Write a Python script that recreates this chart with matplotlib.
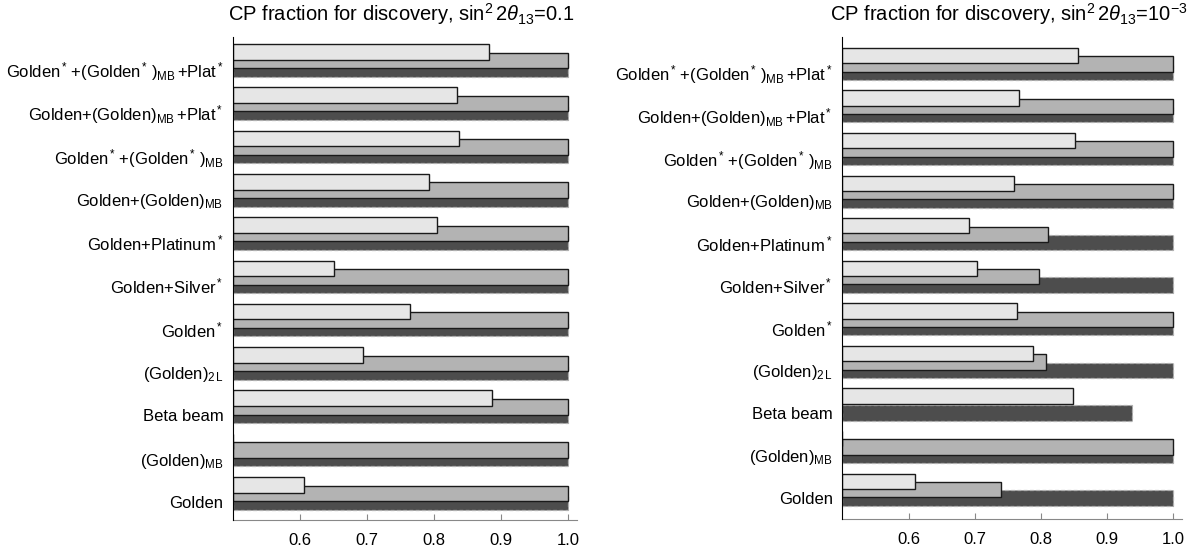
import numpy as np
import matplotlib
matplotlib.use("Agg")
import matplotlib.pyplot as plt

plt.rcParams['font.family'] = ['Liberation Sans', 'DejaVu Sans']
plt.rcParams['mathtext.fontset'] = 'custom'
plt.rcParams['mathtext.rm'] = 'Liberation Sans'
plt.rcParams['mathtext.it'] = 'Liberation Sans:italic'
plt.rcParams['mathtext.bf'] = 'Liberation Sans:bold'

# categories, top to bottom
labels = [r"Golden$^*\,$+(Golden$^*\,$)$_{\mathrm{MB}}\,$+Plat$^*$",
          r"Golden+(Golden)$_{\mathrm{MB}}\,$+Plat$^*$",
          r"Golden$^*\,$+(Golden$^*\,$)$_{\mathrm{MB}}$",
          r"Golden+(Golden)$_{\mathrm{MB}}$",
          r"Golden+Platinum$^*$",
          r"Golden+Silver$^*$",
          r"Golden$^*$",
          r"(Golden)$_{2\,\mathrm{L}}$",
          "Beta beam",
          r"(Golden)$_{\mathrm{MB}}$",
          "Golden"]

# sin^2 2theta13 = 0.1
left_light = [0.881, 0.834, 0.837, 0.792, 0.804, 0.650, 0.764, 0.694, 0.886, 0.500, 0.606]
left_medium = [1.0, 1.0, 1.0, 1.0, 1.0, 1.0, 1.0, 1.0, 1.0, 1.0, 1.0]
left_dark = [1.0, 1.0, 1.0, 1.0, 1.0, 1.0, 1.0, 1.0, 1.0, 1.0, 1.0]

# sin^2 2theta13 = 1e-3
right_light = [0.856, 0.767, 0.852, 0.760, 0.692, 0.704, 0.764, 0.788, 0.848, 0.500, 0.610]
right_medium = [1.0, 1.0, 1.0, 1.0, 0.810, 0.797, 1.0, 0.808, 0.500, 1.0, 0.740]
right_dark = [1.0, 1.0, 1.0, 1.0, 1.0, 1.0, 1.0, 1.0, 0.937, 1.0, 1.0]

xticks = [0.6, 0.7, 0.8, 0.9, 1.0]
base = 0.5

fig = plt.figure(figsize=(11.95, 5.5), dpi=100)
ax1 = fig.add_axes([0.1952, 0.0545, 0.2874, 0.8782])
ax2 = fig.add_axes([0.7049, 0.0558, 0.2840, 0.8769])

h = 0.36
off = 0.196


def draw(ax, light, medium, dark, ylim, title):
    y = np.arange(len(labels))
    ax.barh(y, np.array(dark) - base, left=base, height=h, color='#4d4d4d',
            edgecolor='#b0b0b0', linestyle=(0, (3, 2)), linewidth=0.9, zorder=1)
    ax.barh(y - off, np.array(medium) - base, left=base, height=h, color='#b3b3b3',
            edgecolor='#1a1a1a', linewidth=1.0, zorder=2)
    ax.barh(y - 2 * off, np.array(light) - base, left=base, height=h, color='#e6e6e6',
            edgecolor='#1a1a1a', linewidth=1.0, zorder=3)
    ax.set_xlim(base, 1.0126)
    ax.set_ylim(*ylim)
    ax.set_yticks(y)
    ax.set_yticklabels(labels, fontsize=12)
    ax.set_xticks(xticks)
    ax.set_xticklabels(['%.1f' % t for t in xticks], fontsize=12)
    ax.tick_params(axis='y', length=0, pad=7)
    ax.tick_params(axis='x', direction='in', length=4, color='#888888', pad=9)
    for s in ('top', 'right'):
        ax.spines[s].set_visible(False)
    ax.spines['bottom'].set_color('#888888')
    ax.spines['left'].set_color('black')
    ax.spines['left'].set_zorder(5)
    ax.text(0.49, 1.02, title, transform=ax.transAxes, ha='center', va='bottom', fontsize=14.5)


draw(ax1, left_light, left_medium, left_dark, (10.42, -0.734),
     r"CP fraction for discovery, sin$^2\,2\theta_{13}$=0.1")
draw(ax2, right_light, right_medium, right_dark, (10.50, -0.826),
     r"CP fraction for discovery, sin$^2\,2\theta_{13}$=10$^{-3}$")

fig.savefig("out.png", dpi=100)
